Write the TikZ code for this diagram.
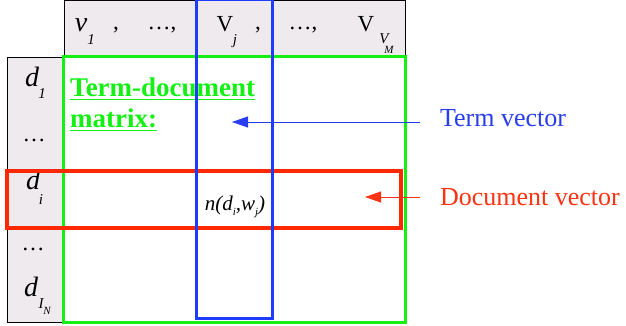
\documentclass[tikz,border=0pt]{standalone}
\usepackage{fontspec}
\setmainfont{Liberation Serif}
\usetikzlibrary{arrows.meta}
\definecolor{cellgray}{RGB}{238,234,238}
\definecolor{mgreen}{RGB}{20,240,20}
\definecolor{mblue}{RGB}{30,60,255}
\definecolor{mred}{RGB}{255,40,0}
\definecolor{tblue}{RGB}{40,60,240}
\definecolor{tred}{RGB}{255,50,20}
\newcommand{\fsz}[1]{\fontsize{#1}{#1}\selectfont}
\tikzset{
  txt/.style={inner sep=0pt, outer sep=0pt, anchor=base},
  big/.style={txt, font=\fsz{28}\itshape},
  bigup/.style={txt, font=\fsz{23}},
  sub/.style={txt, font=\fsz{15}\itshape},
  subsub/.style={txt, font=\fsz{11}\itshape},
  lbl/.style={inner sep=0pt, outer sep=0pt, anchor=base west, font=\fsz{26}},
  hdrbox/.style={draw=black, line width=0.8pt, fill=cellgray},
  frame/.style={line width=3pt},
  ptr/.style={line width=0.9pt, -{Triangle[length=16pt, width=11pt]}}
}
\begin{document}
\begin{tikzpicture}[x=1pt, y=-1pt]
\useasboundingbox (0,0) rectangle (626,326);
% gray header cells
\draw[hdrbox] (64,0.5) rectangle (405,57);
\draw[hdrbox] (7,57) rectangle (63,322);
% header labels
\node[big] (v1) at (81,32) {v};
\node[sub] (v1s) at (91,45) {1};
\node[bigup] (c1) at (116,30) {,};
\node[bigup] (dots1) at (162,30) {\ldots,};
\node[bigup] (vj) at (225,32) {V};
\node[sub] (vjs) at (235,45) {j};
\node[bigup] (c2) at (258,30) {,};
\node[bigup] (dots2) at (303,30) {\ldots,};
\node[bigup] (vm) at (366,32) {V};
\node[sub] (vms) at (384,44) {V};
\node[subsub] (vmss) at (389,54) {M};
% row labels
\node[big] (d1) at (32,87) {d};
\node[sub] (d1s) at (42,99) {1};
\node[bigup] (rdots1) at (34,141) {\ldots};
\node[big] (di) at (33,189) {d};
\node[sub] (dis) at (41,204) {i};
\node[bigup] (rdots2) at (33,250) {\ldots};
\node[big] (dn) at (31,296) {d};
\node[sub] (dns) at (41,308) {I};
\node[subsub] (dnss) at (47,314) {N};
% matrix title
\node[inner sep=0pt, anchor=base west, font=\fsz{27}\bfseries, text=mgreen] (title1) at (70,97) {\underline{Term-document}};
\node[inner sep=0pt, anchor=base west, font=\fsz{27}\bfseries, text=mgreen] (title2) at (70,128) {\underline{matrix:}};
% cell entry
\node[txt, font=\fsz{21}\itshape] (cell) at (235,210) {n(d\raisebox{-5pt}{\fsz{11}i},w\raisebox{-5pt}{\fsz{11}j})};
% frames
\draw[frame, mgreen] (63,57) rectangle (405,322);
\draw[frame, mred, line width=4pt] (7,171) rectangle (401,228);
\draw[frame, mblue] (196,0) rectangle (272,318);
% pointers and labels
\node[lbl, text=tblue] (tv) at (440,127) {Term vector};
\node[lbl, text=tred] (dv) at (440,205) {Document vector};
\coordinate (tvs) at (420,122);
\coordinate (tve) at (232,122);
\coordinate (dvs) at (420,197);
\coordinate (dve) at (365,197);
\draw[ptr, tblue] (tvs) -- (tve);
\draw[ptr, tred] (dvs) -- (dve);
\end{tikzpicture}
\end{document}
